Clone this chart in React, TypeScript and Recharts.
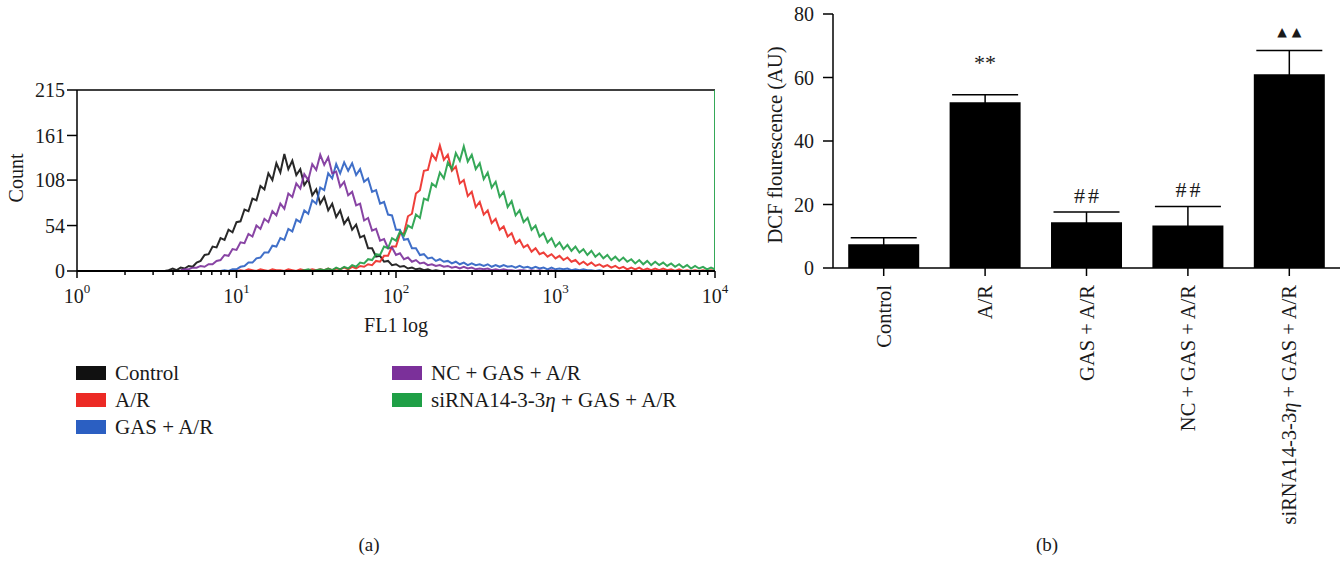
import React from 'react';
import {
  LineChart,
  Line,
  XAxis,
  YAxis,
  ReferenceLine,
  Legend,
  ComposedChart,
  Bar,
  ErrorBar,
  LabelList,
} from 'recharts';

const SERIF = '"Liberation Serif", "DejaVu Serif", serif';
const INK = '#1a1a1a';

// ---------------- Panel (a): flow cytometry histograms ----------------
const HIST_NAMES = ['Control', 'A/R', 'GAS + A/R', 'NC + GAS + A/R', 'siRNA14-3-3η + GAS + A/R'];
const HIST_COLORS = ['#111111', '#ec2a25', '#2b5fc2', '#7b309a', '#1f9f46'];
// log10(FL1) of the first channel listed for each series, channels every 0.025 decade
const HIST_STARTS = [0.55, 1.0, 0.9, 0.65, 1.4];
const CHANNEL_STEP = 0.025;

const CONTROL_COUNTS = [
  0, 1, 3, 1, 4, 3, 6, 5, 10, 12,
  19, 20, 29, 28, 39, 37, 49, 46, 58, 59,
  73, 71, 86, 84, 101, 97, 116, 108, 128, 117,
  139, 121, 131, 114,
  121, 102, 109, 90, 97, 80, 88, 72, 80, 64,
  72, 56, 63, 49, 55, 40, 42, 27, 27, 17,
  18, 11, 12, 7, 8, 5, 6, 3, 4, 2,
  3, 1, 2, 0, 1, 0, 0,
];
const AR_COUNTS = [
  0, 1, 0, 2, 1, 0, 2, 1, 0, 2,
  1, 1, 0, 2, 1, 0, 2, 1, 1, 2,
  1, 2, 1, 3, 1, 3, 2, 4, 2, 5,
  3, 6, 5, 8, 7, 12, 11, 18, 18, 29,
  29, 44, 45, 65, 68, 92, 96, 119, 120, 139,
  132, 149, 132, 138, 119, 124, 104, 108, 89, 94,
  76, 82, 67, 72, 57, 62, 49, 53, 41, 45,
  33, 37, 28, 31, 23, 27, 20, 22, 17, 20,
  15, 18, 13, 16, 11, 13, 8, 11, 7, 10,
  6, 8, 5, 7, 4, 6, 3, 5, 2, 4,
  2, 4, 1, 3, 1, 3, 1, 3, 1, 2,
  0, 2, 0, 1, 0, 1, 0, 1, 0, 1,
  0,
];
const GAS_COUNTS = [
  0, 1, 0, 2, 2, 5, 6, 10, 10, 15,
  16, 22, 22, 30, 29, 39, 37, 50, 47, 61,
  58, 72, 68, 84, 80, 99, 96, 116, 110, 127,
  116, 129, 119, 128, 114, 121, 106, 110, 94, 96,
  80, 82, 67, 66, 49, 49, 37, 38, 27, 27,
  19, 20, 15, 16, 12, 14, 11, 12, 9, 11,
  8, 10, 7, 9, 7, 8, 6, 8, 5, 7,
  5, 7, 5, 6, 4, 6, 4, 5, 3, 5,
  3, 4, 2, 4, 2, 3, 2, 3, 1, 2,
  1, 2, 1, 1, 0, 1, 0,
];
const NC_COUNTS = [
  1, 2, 2, 4, 4, 6, 5, 8, 8, 12,
  13, 19, 18, 26, 25, 34, 33, 44, 41, 54,
  50, 62, 58, 71, 66, 80, 74, 92, 88, 104,
  98, 115, 108, 127, 120, 138, 126, 135, 116, 118,
  100, 106, 90, 94, 78, 80, 60, 63, 48, 50,
  36, 38, 27, 28, 19, 21, 14, 16, 11, 13,
  9, 10, 7, 8, 6, 7, 5, 6, 4, 5,
  3, 5, 3, 4, 2, 3, 2, 3, 1, 2,
  1, 2, 1, 1, 0, 1, 1, 0, 1, 0,
  1, 0, 0, 1, 0,
];
const SI_COUNTS = [
  0, 1, 2, 0, 1, 2, 1, 3, 1, 4,
  2, 5, 3, 7, 5, 10, 9, 14, 13, 20,
  19, 29, 27, 39, 36, 47, 42, 54, 51, 67,
  63, 86, 84, 104, 100, 117, 110, 129, 121, 140,
  131, 148, 130, 138, 121, 128, 109, 117, 99, 106,
  88, 94, 76, 83, 66, 72, 58, 63, 49, 54,
  41, 45, 34, 39, 29, 34, 26, 31, 24, 29,
  22, 26, 19, 24, 17, 21, 15, 19, 13, 17,
  12, 16, 11, 14, 9, 13, 8, 12, 7, 11,
  7, 10, 6, 9, 5, 8, 4, 7, 3, 6,
  3, 5, 2, 4, 2,
];
// off-scale events piled in the last channel of the siRNA sample
const SI_LAST_CHANNEL = 4;
const SI_OVERFLOW = 215;

const HIST_COUNTS = [CONTROL_COUNTS, AR_COUNTS, GAS_COUNTS, NC_COUNTS, SI_COUNTS];
const COUNT_TICKS = [0, 54, 108, 161, 215];
const DECADES = [0, 1, 2, 3, 4];
const MINOR_MULTIPLES = [2, 3, 4, 5, 6, 7, 8, 9];

// ---------------- Panel (b): DCF fluorescence bars ----------------
const BAR_LABELS = ['Control', 'A/R', 'GAS + A/R', 'NC + GAS + A/R', 'siRNA14-3-3η + GAS + A/R'];
const BAR_MEANS = [7.5, 52.2, 14.4, 13.4, 61.0];
const BAR_ERRORS = [2.0, 2.4, 3.2, 6.0, 7.5];
const BAR_MARKS = ['', '**', '##', '##', '▲▲'];
const DCF_TICKS = [0, 20, 40, 60, 80];

const MARK_STYLE: Record<string, { dy: number; size: number; font: string; ls: number }> = {
  '**': { dy: 25, size: 22, font: SERIF, ls: 0 },
  '##': { dy: 9, size: 22, font: SERIF, ls: 3 },
  '▲▲': { dy: 15, size: 12.5, font: '"DejaVu Sans", sans-serif', ls: 5 },
};

function toPoints(start: number, counts: number[]) {
  return counts.map((c, i) => ({ x: +(start + i * CHANNEL_STEP).toFixed(4), y: c }));
}

const LOG_TICKS = DECADES.flatMap((d) =>
  d < 4 ? [d, ...MINOR_MULTIPLES.map((k) => d + Math.log10(k))] : [d]
);

function richText(text: string) {
  const parts = text.split('η');
  const out: React.ReactNode[] = [];
  parts.forEach((p, i) => {
    if (i > 0) out.push(<tspan key={'e' + i} fontStyle="italic">η</tspan>);
    if (p) out.push(p);
  });
  return out;
}

function htmlRich(text: string) {
  const parts = text.split('η');
  const out: React.ReactNode[] = [];
  parts.forEach((p, i) => {
    if (i > 0) out.push(<i key={'e' + i}>η</i>);
    if (p) out.push(<span key={'p' + i}>{p}</span>);
  });
  return out;
}

function LogTick(props: any) {
  const { x, y, payload } = props;
  const v = payload.value as number;
  const major = Math.abs(v - Math.round(v)) < 1e-6;
  return (
    <g>
      <line x1={x} x2={x} y1={y} y2={y + (major ? 7 : 4)} stroke="#000" strokeWidth={1.5} />
      {major && (
        <text x={x} y={y + 32} textAnchor="middle" fontSize={20} fontFamily={SERIF} fill={INK}>
          10
          <tspan dy={-10} fontSize={13}>
            {Math.round(v)}
          </tspan>
        </text>
      )}
    </g>
  );
}

function RotTick(props: any) {
  const { x, y, payload } = props;
  return (
    <text
      x={x}
      y={y}
      transform={`rotate(-90 ${x} ${y})`}
      textAnchor="end"
      dy="0.35em"
      fontSize={20.5}
      fontFamily={SERIF}
      fill={INK}
    >
      {richText(String(payload.value))}
    </text>
  );
}

function MarkLabel(props: any) {
  const { x, y, value } = props;
  if (!value) return null;
  const st = MARK_STYLE[value];
  return (
    <text
      x={x + st.ls / 2}
      y={y - st.dy}
      textAnchor="middle"
      fontSize={st.size}
      fontFamily={st.font}
      letterSpacing={st.ls}
      fill={INK}
    >
      {value}
    </text>
  );
}

function HistLegend(props: any) {
  const payload = [...(props.payload || [])].sort(
    (a: any, b: any) => HIST_NAMES.indexOf(a.value) - HIST_NAMES.indexOf(b.value)
  );
  const COL_X = [76, 392];
  const ROW_Y = [13, 40, 67];
  return (
    <div style={{ position: 'relative', width: 730, height: 90, fontFamily: SERIF, color: INK }}>
      {payload.map((entry: any, i: number) => {
        const col = i < 3 ? 0 : 1;
        const row = i < 3 ? i : i - 3;
        return (
          <div
            key={i}
            style={{
              position: 'absolute',
              left: COL_X[col],
              top: ROW_Y[row] - 12,
              height: 24,
              display: 'flex',
              alignItems: 'center',
              whiteSpace: 'nowrap',
            }}
          >
            <div style={{ width: 30, height: 14, background: entry.color, marginRight: 9 }} />
            <span style={{ fontSize: 21, lineHeight: '24px' }}>{htmlRich(String(entry.value))}</span>
          </div>
        );
      })}
    </div>
  );
}

export default function App() {
  const series = HIST_NAMES.map((name, i) => {
    const pts = toPoints(HIST_STARTS[i], HIST_COUNTS[i]);
    if (i === 4) pts.push({ x: SI_LAST_CHANNEL, y: SI_OVERFLOW });
    return { name, color: HIST_COLORS[i], data: pts };
  });

  const barData = BAR_LABELS.map((label, i) => ({
    label,
    mean: BAR_MEANS[i],
    err: BAR_ERRORS[i],
    top: BAR_MEANS[i] + BAR_ERRORS[i],
    mark: BAR_MARKS[i],
  }));

  return (
    <div
      style={{
        position: 'absolute',
        left: 0,
        top: 0,
        width: 1343,
        height: 567,
        background: '#fff',
        fontFamily: SERIF,
        color: INK,
        overflow: 'hidden',
      }}
    >
      <div style={{ position: 'absolute', left: 0, top: 0 }}>
        <LineChart width={730} height={450} margin={{ top: 90, right: 15, bottom: 119, left: 0 }}>
          <XAxis
            type="number"
            dataKey="x"
            domain={[0, 4]}
            ticks={LOG_TICKS}
            interval={0}
            tickSize={0}
            tickMargin={0}
            tick={<LogTick />}
            tickLine={false}
            axisLine={{ stroke: '#000', strokeWidth: 2 }}
            height={60}
            allowDataOverflow
          />
          <YAxis
            type="number"
            domain={[0, 215]}
            ticks={COUNT_TICKS}
            interval={0}
            width={77}
            tickSize={10}
            tickMargin={2}
            tick={{ fill: INK, fontSize: 20, fontFamily: SERIF }}
            tickLine={{ stroke: '#000', strokeWidth: 1.5 }}
            axisLine={{ stroke: '#000', strokeWidth: 1.5 }}
          />
          <ReferenceLine y={215} stroke="#000" strokeWidth={1.5} />
          {series.map((s) => (
            <Line
              key={s.name}
              data={s.data}
              dataKey="y"
              name={s.name}
              type="linear"
              stroke={s.color}
              strokeWidth={2}
              strokeOpacity={0.9}
              dot={false}
              activeDot={false}
              isAnimationActive={false}
            />
          ))}
          <Legend
            layout="horizontal"
            verticalAlign="middle"
            align="center"
            itemSorter={null as any}
            content={<HistLegend />}
            wrapperStyle={{ position: 'absolute', left: 0, top: 360, width: 730, height: 90 }}
          />
        </LineChart>
      </div>

      <div style={{ position: 'absolute', left: 740, top: 0 }}>
        <ComposedChart
          width={603}
          height={567}
          data={barData}
          margin={{ top: 14, right: 3, bottom: 0, left: 0 }}
          barCategoryGap="15%"
        >
          <XAxis
            dataKey="label"
            height={299}
            interval={0}
            tickSize={8}
            tickMargin={9}
            tick={<RotTick />}
            tickLine={{ stroke: '#000', strokeWidth: 1.5 }}
            axisLine={{ stroke: '#000', strokeWidth: 1.5 }}
          />
          <YAxis
            type="number"
            domain={[0, 80]}
            ticks={DCF_TICKS}
            interval={0}
            width={93}
            tickSize={10}
            tickMargin={9}
            tick={{ fill: INK, fontSize: 20, fontFamily: SERIF }}
            tickLine={{ stroke: '#000', strokeWidth: 1.5 }}
            axisLine={{ stroke: '#000', strokeWidth: 1.5 }}
          />
          <Bar dataKey="mean" fill="#000" isAnimationActive={false}>
            <ErrorBar dataKey="err" width={33} stroke="#000" strokeWidth={1.5} direction="y" />
          </Bar>
          <Line
            dataKey="top"
            stroke="none"
            dot={false}
            activeDot={false}
            legendType="none"
            isAnimationActive={false}
          >
            <LabelList dataKey="mark" content={<MarkLabel />} />
          </Line>
        </ComposedChart>
      </div>

      <svg
        width={1343}
        height={567}
        style={{ position: 'absolute', left: 0, top: 0, pointerEvents: 'none' }}
      >
        <text x={23} y={178} transform="rotate(-90 23 178)" textAnchor="middle" fontSize={20} fontFamily={SERIF} fill={INK}>
          Count
        </text>
        <text x={396} y={332} textAnchor="middle" fontSize={20} fontFamily={SERIF} fill={INK}>
          FL1 log
        </text>
        <text x={782} y={145} transform="rotate(-90 782 145)" textAnchor="middle" fontSize={20.5} fontFamily={SERIF} fill={INK}>
          DCF flourescence (AU)
        </text>
        <text x={369} y={551} textAnchor="middle" fontSize={19} fontFamily={SERIF} fill={INK}>
          (a)
        </text>
        <text x={1047} y={551} textAnchor="middle" fontSize={19} fontFamily={SERIF} fill={INK}>
          (b)
        </text>
      </svg>
    </div>
  );
}
